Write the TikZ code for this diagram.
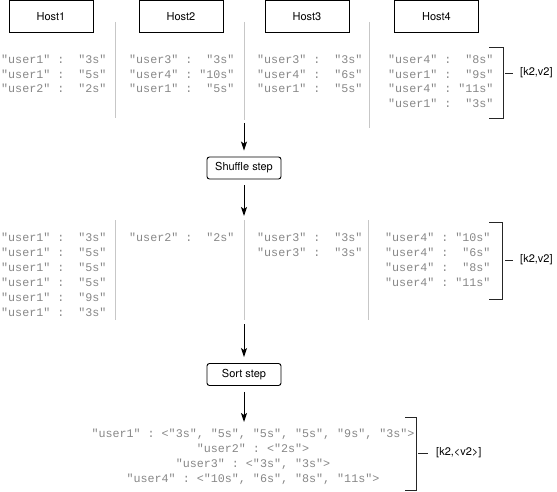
\documentclass[tikz,border=0pt]{standalone}
\usepackage{fontspec}
\setmainfont{TeX Gyre Heros}
\setmonofont{Liberation Mono}
\usetikzlibrary{arrows.meta}

\newcommand{\kv}[2]{"#1" : \makebox[3em][r]{"#2"}}

\begin{document}
\begin{tikzpicture}[x=1pt,y=-1pt,
    host/.style={draw,line width=0.9pt,minimum width=84pt,minimum height=32pt,inner sep=0pt,font=\fontsize{11}{13}\selectfont},
    stepbox/.style={draw,rounded corners=2.5pt,line width=0.9pt,minimum width=74pt,minimum height=22pt,inner sep=0pt,font=\fontsize{11}{13}\selectfont},
    pairs/.style={text=black!47,inner sep=0pt,align=left,anchor=north west,font=\ttfamily\fontsize{11.7}{14.5}\selectfont},
    sep/.style={black!22,line width=0.6pt},
    arr/.style={-{Stealth[length=9pt,width=6pt,inset=2pt]},line width=1pt},
    brack/.style={line width=0.8pt,black!85},
    note/.style={font=\fontsize{11}{13}\selectfont,inner sep=0pt,anchor=west}]
    \useasboundingbox (0,0) rectangle (557,492);

    % hosts
    \node[host] (host1) at (51,16.5) {Host1};
    \node[host] (host2) at (181,16.5) {Host2};
    \node[host] (host3) at (307,16.5) {Host3};
    \node[host] (host4) at (436.5,16.5) {Host4};

    % map output
    \draw[sep] (115,22) -- (115,118);
    \draw[sep] (244,22) -- (244,120);
    \draw[sep] (369,22) -- (369,128);
    \node[pairs] (map1) at (1,55) {\kv{user1}{3s}\\\kv{user1}{5s}\\\kv{user2}{2s}};
    \node[pairs] (map2) at (129,55) {\kv{user3}{3s}\\\kv{user4}{10s}\\\kv{user1}{5s}};
    \node[pairs] (map3) at (257,55) {\kv{user3}{3s}\\\kv{user4}{6s}\\\kv{user1}{5s}};
    \node[pairs] (map4) at (388,55) {\kv{user4}{8s}\\\kv{user1}{9s}\\\kv{user4}{11s}\\\kv{user1}{3s}};
    \draw[brack] (489,47) -- (503,47) -- (503,118) -- (489,118);
    \coordinate (tick1) at (505,73);
    \node[note] (kv1) at (520,73) {[k2,v2]};
    \draw[brack] (tick1) -- ++(8,0);

    % shuffle
    \coordinate (in1) at (244,123);
    \node[stepbox] (shuffle) at (244,168) {Shuffle step};
    \coordinate (out1) at (244,216);
    \draw[arr,shorten >=6pt] (in1) -- (shuffle);
    \draw[arr,shorten <=6pt] (shuffle) -- (out1);

    % shuffled pairs
    \draw[sep] (115,220) -- (115,320);
    \draw[sep] (244,220) -- (244,320);
    \draw[sep] (368,220) -- (368,320);
    \node[pairs,font=\ttfamily\fontsize{11.7}{15}\selectfont] (red1) at (1,233) {\kv{user1}{3s}\\\kv{user1}{5s}\\\kv{user1}{5s}\\\kv{user1}{5s}\\\kv{user1}{9s}\\\kv{user1}{3s}};
    \node[pairs,font=\ttfamily\fontsize{11.7}{15}\selectfont] (red2) at (129,233) {\kv{user2}{2s}};
    \node[pairs,font=\ttfamily\fontsize{11.7}{15}\selectfont] (red3) at (257,233) {\kv{user3}{3s}\\\kv{user3}{3s}};
    \node[pairs,font=\ttfamily\fontsize{11.7}{15}\selectfont] (red4) at (385,233) {\kv{user4}{10s}\\\kv{user4}{6s}\\\kv{user4}{8s}\\\kv{user4}{11s}};
    \draw[brack] (489,222) -- (502,222) -- (502,299) -- (489,299);
    \coordinate (tick2) at (505,260);
    \node[note] (kv2) at (520,260) {[k2,v2]};
    \draw[brack] (tick2) -- ++(8,0);

    % sort
    \coordinate (in2) at (244,324);
    \node[stepbox] (sort) at (244,374.5) {Sort step};
    \coordinate (out2) at (244,422);
    \draw[arr,shorten >=6pt] (in2) -- (sort);
    \draw[arr,shorten <=6pt] (sort) -- (out2);

    % grouped values
    \node[pairs,align=center,anchor=north,font=\ttfamily\fontsize{11.7}{15}\selectfont] (grouped) at (253,429)
        {"user1" : <"3s", "5s", "5s", "5s", "9s", "3s">\\"user2" : <"2s">\\"user3" : <"3s", "3s">\\"user4" : <"10s", "6s", "8s", "11s">};
    \draw[brack] (405,417) -- (416,417) -- (416,490) -- (405,490);
    \coordinate (tick3) at (418,453);
    \node[note] (kv3) at (436,453) {[k2,<v2>]};
    \draw[brack] (tick3) -- ++(10,0);
\end{tikzpicture}
\end{document}
